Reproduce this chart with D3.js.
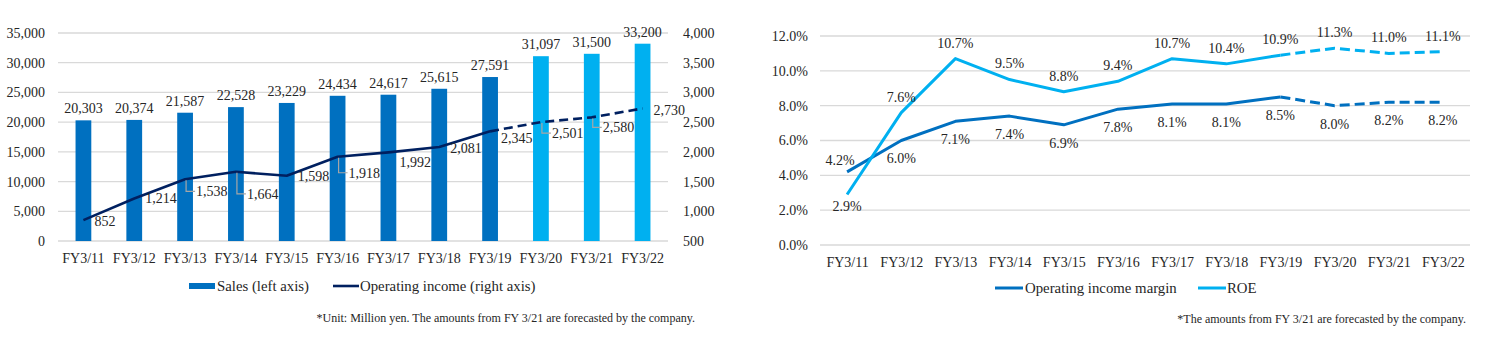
<!DOCTYPE html>
<html><head><meta charset="utf-8">
<script src="https://cdn.jsdelivr.net/npm/d3@7"></script>
<style>
body{margin:0;background:#fff;}
text{font-family:"Liberation Serif","Times New Roman",serif;fill:#262626;}
</style></head>
<body><svg id="c" width="1506" height="337"></svg>
<script>
// ---------- data ----------
const categories = ["FY3/11","FY3/12","FY3/13","FY3/14","FY3/15","FY3/16","FY3/17","FY3/18","FY3/19","FY3/20","FY3/21","FY3/22"];
const sales = [20303,20374,21587,22528,23229,24434,24617,25615,27591,31097,31500,33200];
const salesForecast = [false,false,false,false,false,false,false,false,false,true,true,true];
const operatingIncome = [852,1214,1538,1664,1598,1918,1992,2081,2345,2501,2580,2730];
const leftTicks = [0,5000,10000,15000,20000,25000,30000,35000];
const rightTicks = [500,1000,1500,2000,2500,3000,3500,4000];
const opMargin = [4.2,6.0,7.1,7.4,6.9,7.8,8.1,8.1,8.5,8.0,8.2,8.2];
const roe = [2.9,7.6,10.7,9.5,8.8,9.4,10.7,10.4,10.9,11.3,11.0,11.1];
const pctTicks = [0,2,4,6,8,10,12];
const dashFrom = 8; // index where dashed segment begins
// label layout (offsets of operating income labels, px)
const oiLabelDy = [1,0,12,22,0,16,10,1,7,11,10,1.5];
const oiLeader = [false,false,true,true,false,true,false,false,false,true,true,false];

const svg = d3.select("#c");
const fmt = d3.format(",");
const grid = "#d9d9d9";
const FONT = "Liberation Serif";

// ---------- left chart ----------
const L = {x0:58, x1:668, y0:241, y1:33};
const xL = d3.scaleBand().domain(categories).range([L.x0,L.x1]).paddingInner(0.69).paddingOuter(0.345);
const ySales = d3.scaleLinear().domain([0,35000]).range([L.y0,L.y1]);
const yOI = d3.scaleLinear().domain([500,4000]).range([L.y0,L.y1]);
const gl = svg.append("g");

gl.selectAll("line.g").data(leftTicks).join("line")
  .attr("x1",L.x0).attr("x2",L.x1)
  .attr("y1",d=>ySales(d)).attr("y2",d=>ySales(d))
  .attr("stroke",grid).attr("stroke-width",1.3);

function styleAxis(g){
  g.select(".domain").remove();
  g.attr("font-family",FONT);
  g.selectAll("text").style("font-size","14px").style("font-family",FONT).attr("fill","#262626");
}
gl.append("g").attr("transform",`translate(${L.x0},0)`)
  .call(d3.axisLeft(ySales).tickValues(leftTicks).tickFormat(fmt).tickSize(0).tickPadding(13)).call(styleAxis);
gl.append("g").attr("transform",`translate(${L.x1},0)`)
  .call(d3.axisRight(yOI).tickValues(rightTicks).tickFormat(fmt).tickSize(0).tickPadding(15)).call(styleAxis);
gl.append("g").attr("transform",`translate(0,${L.y0})`)
  .call(d3.axisBottom(xL).tickSize(0).tickPadding(12)).call(styleAxis);

gl.selectAll("rect.bar").data(sales).join("rect")
  .attr("x",(d,i)=>xL(categories[i])).attr("width",xL.bandwidth())
  .attr("y",d=>ySales(d)).attr("height",d=>L.y0-ySales(d))
  .attr("fill",(d,i)=>salesForecast[i]?"#00b0f0":"#0070c0");
gl.selectAll("text.sl").data(sales).join("text")
  .attr("x",(d,i)=>xL(categories[i])+xL.bandwidth()/2).attr("y",d=>ySales(d)-7)
  .attr("text-anchor","middle").style("font-size","14px").text(d=>fmt(d));

const cx = i=>xL(categories[i])+xL.bandwidth()/2;
gl.append("path").datum(operatingIncome.slice(0,dashFrom+1))
  .attr("d",d3.line().x((d,i)=>cx(i)).y(d=>yOI(d)))
  .attr("fill","none").attr("stroke","#002060").attr("stroke-width",2.6).attr("stroke-linejoin","round");
gl.append("path").datum(operatingIncome.slice(dashFrom))
  .attr("d",d3.line().x((d,i)=>cx(i+dashFrom)).y(d=>yOI(d)))
  .attr("fill","none").attr("stroke","#002060").attr("stroke-width",2.6).attr("stroke-dasharray","9,5");

operatingIncome.forEach((v,i)=>{
  const px=cx(i), py=yOI(v), dy=oiLabelDy[i];
  if(oiLeader[i]){
    gl.append("path").attr("d",`M${px+1},${py+1}V${py+dy}H${px+10}`)
      .attr("fill","none").attr("stroke","#a6a6a6").attr("stroke-width",1.2);
  }
  gl.append("text").attr("x",px+11).attr("y",py+dy).attr("dy","0.35em")
    .style("font-size","14px").text(fmt(v));
});

// left legend
gl.append("rect").attr("x",189).attr("y",283).attr("width",26).attr("height",6).attr("fill","#0070c0");
gl.append("text").attr("x",217).attr("y",286).attr("dy","0.35em").style("font-size","14.8px").text("Sales (left axis)");
gl.append("line").attr("x1",333).attr("x2",359).attr("y1",286).attr("y2",286).attr("stroke","#002060").attr("stroke-width",2.6);
gl.append("text").attr("x",360).attr("y",286).attr("dy","0.35em").style("font-size","14.8px").text("Operating income (right axis)");
gl.append("text").attr("x",695).attr("y",318).attr("dy","0.35em").attr("text-anchor","end").style("font-size","12px")
  .text("*Unit: Million yen. The amounts from FY 3/21 are forecasted by the company.");

// ---------- right chart ----------
const R = {x0:820, x1:1470, y0:245, y1:36};
const xR = d3.scalePoint().domain(categories).range([R.x0,R.x1]).padding(0.5);
const yP = d3.scaleLinear().domain([0,12]).range([R.y0,R.y1]);
const gr = svg.append("g");
gr.selectAll("line.g").data(pctTicks).join("line")
  .attr("x1",R.x0).attr("x2",R.x1)
  .attr("y1",d=>yP(d)).attr("y2",d=>yP(d))
  .attr("stroke",grid).attr("stroke-width",1.3);
gr.append("g").attr("transform",`translate(${R.x0},0)`)
  .call(d3.axisLeft(yP).tickValues(pctTicks).tickFormat(d=>d.toFixed(1)+"%").tickSize(0).tickPadding(12)).call(styleAxis);
gr.append("g").attr("transform",`translate(0,${R.y0})`)
  .call(d3.axisBottom(xR).tickSize(0).tickPadding(12)).call(styleAxis);

function drawSeries(vals,color,labelDy,firstDy,firstDx){
  gr.append("path").datum(vals.slice(0,dashFrom+1))
    .attr("d",d3.line().x((d,i)=>xR(categories[i])).y(d=>yP(d)))
    .attr("fill","none").attr("stroke",color).attr("stroke-width",3).attr("stroke-linejoin","round");
  gr.append("path").datum(vals.slice(dashFrom))
    .attr("d",d3.line().x((d,i)=>xR(categories[i+dashFrom])).y(d=>yP(d)))
    .attr("fill","none").attr("stroke",color).attr("stroke-width",3).attr("stroke-dasharray","10,5");
  gr.selectAll(null).data(vals).join("text")
    .attr("x",(d,i)=>xR(categories[i])+(i===0?firstDx:0))
    .attr("y",(d,i)=>yP(d)+(i===0?firstDy:labelDy)).attr("dy","0.35em")
    .attr("text-anchor","middle").style("font-size","14px").text(d=>d.toFixed(1)+"%");
}
drawSeries(opMargin,"#0070c0",18,-12,-7);
drawSeries(roe,"#00b0f0",-16,12,0);

// right legend
gr.append("line").attr("x1",995).attr("x2",1023).attr("y1",288).attr("y2",288).attr("stroke","#0070c0").attr("stroke-width",3);
gr.append("text").attr("x",1025).attr("y",288).attr("dy","0.35em").style("font-size","14.8px").text("Operating income margin");
gr.append("line").attr("x1",1198).attr("x2",1226).attr("y1",288).attr("y2",288).attr("stroke","#00b0f0").attr("stroke-width",3);
gr.append("text").attr("x",1227).attr("y",288).attr("dy","0.35em").style("font-size","14.8px").text("ROE");
gr.append("text").attr("x",1466).attr("y",319).attr("dy","0.35em").attr("text-anchor","end").style("font-size","12px")
  .text("*The amounts from FY 3/21 are forecasted by the company.");
</script></body></html>
